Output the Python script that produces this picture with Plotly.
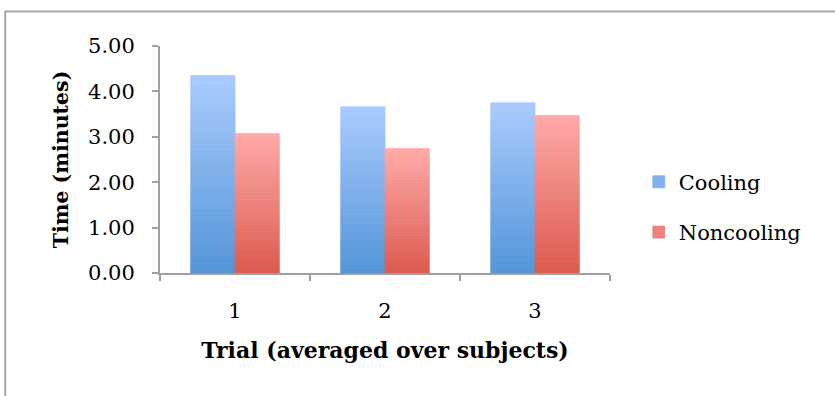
import plotly.graph_objects as go

# Mean completion time per trial (minutes)
trials = ["1", "2", "3"]
cooling = [4.35, 3.66, 3.75]
noncooling = [3.07, 2.74, 3.47]

series = [
    # name, values, bottom colour, top colour
    ("Cooling", cooling, (83, 149, 216), (170, 203, 254)),
    ("Noncooling", noncooling, (219, 90, 78), (255, 170, 169)),
]

N_STEPS = 40  # slices used to shade each bar from bottom to top


def mix(c0, c1, t):
    return "rgb(%d,%d,%d)" % tuple(round(a + (b - a) * t) for a, b in zip(c0, c1))


fig = go.Figure()
for name, vals, c_bot, c_top in series:
    for k in range(N_STEPS):
        t = (k + 0.5) / N_STEPS
        col = mix(c_bot, c_top, t)
        fig.add_trace(go.Bar(
            x=trials,
            y=[v / N_STEPS for v in vals],
            base=[v * k / N_STEPS for v in vals],
            offsetgroup=name,
            legendgroup=name,
            name=name,
            showlegend=(k == N_STEPS // 2),
            marker=dict(color=col, line=dict(width=0.8, color=col)),
            hovertemplate=name + ": %{customdata:.2f}<extra></extra>",
            customdata=vals,
        ))

font_family = "DejaVu Serif"
axis_grey = "#a0a0a0"

fig.update_layout(
    width=835, height=396,
    margin=dict(l=160, r=225, t=46, b=123),
    paper_bgcolor="white", plot_bgcolor="white",
    barmode="group", bargap=0.41, bargroupgap=0,
    font=dict(family=font_family, size=21, color="black"),
    legend=dict(
        x=1.064, xanchor="left", y=0.29, yanchor="middle",
        font=dict(size=21), tracegroupgap=20,
        bgcolor="rgba(0,0,0,0)",
    ),
    xaxis=dict(
        type="category", showline=True, linecolor=axis_grey, linewidth=2,
        ticks="outside", tickson="boundaries", ticklen=6, tickcolor=axis_grey,
        tickwidth=2, ticklabelstandoff=18, showgrid=False,
        title=dict(text="<b>Trial (averaged over subjects)</b>", standoff=20,
                   font=dict(size=22)),
    ),
    yaxis=dict(
        range=[0, 5], tickvals=[0, 1, 2, 3, 4, 5], tickformat=".2f",
        showline=True, linecolor=axis_grey, linewidth=2,
        ticks="outside", ticklen=6, tickcolor=axis_grey, tickwidth=2,
        ticklabelstandoff=13, showgrid=False, zeroline=False,
        title=dict(text="<b>Time (minutes)</b>", standoff=14,
                   font=dict(size=20.5)),
    ),
    shapes=[dict(
        type="rect", xref="paper", yref="paper",
        x0=-0.344, x1=1.52, y0=-0.6, y1=1.152,
        line=dict(color="#a6a6a6", width=2), layer="below",
    )],
)

fig.write_html("out.html")
